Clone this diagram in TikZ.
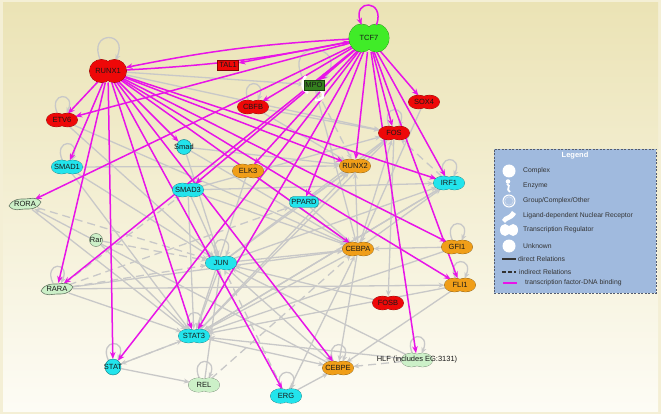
\documentclass[tikz,border=0pt]{standalone}
\usepackage{fontspec}
\setmainfont{Liberation Sans}
\usetikzlibrary{positioning}
\usetikzlibrary{arrows,arrows.meta,shapes}
\usetikzlibrary{calc}
\definecolor{bgtop}{RGB}{235,227,181}
\definecolor{bgbot}{RGB}{253,252,245}
\definecolor{tfred}{RGB}{238,8,8}
\definecolor{tfgreen}{RGB}{64,236,40}
\definecolor{tfcyan}{RGB}{34,228,236}
\definecolor{tforange}{RGB}{240,158,24}
\definecolor{tfpale}{RGB}{204,240,200}
\definecolor{enzgreen}{RGB}{52,128,30}
\definecolor{tfmag}{RGB}{232,20,232}
\definecolor{relgrey}{RGB}{200,200,200}
\definecolor{legblue}{RGB}{160,186,222}
\definecolor{legedge}{RGB}{84,92,110}
\tikzstyle{tfbind}=[draw=tfmag, line width=1.5pt, -{Stealth[length=7pt,width=5.5pt]}]
\tikzstyle{rel}=[draw=relgrey, line width=1.3pt, -{Stealth[length=6pt,width=5pt]}]
\tikzstyle{indrel}=[rel, dash pattern=on 8pt off 5pt]
\tikzstyle{genebox}=[inner sep=0pt, outer sep=0pt]
\tikzstyle{lbl}=[font=\fontsize{7.5}{8}\selectfont, text=black!90]
\tikzstyle{legtxt}=[font=\fontsize{6.8}{8}\selectfont, text=black!80, anchor=west, inner sep=0pt]
\pgfdeclarelayer{edges}
\pgfsetlayers{edges,main}

\begin{document}
\begin{tikzpicture}[x=1pt, y=-1pt]
\useasboundingbox (0,0) rectangle (661,414);

\begin{pgfonlayer}{edges}
  \fill[bgbot!50!bgtop] (0,0) rectangle (661,414);
  \shade[top color=bgtop, bottom color=bgbot] (3,3) rectangle (658,411);
\end{pgfonlayer}

% transcription regulators (two lobes)
\foreach \x/\y/\name/\lbl/\col/\rx/\ry/\d in {
    369/38/TCF7/TCF7/tfgreen/12.5/14/7.5,
    108/71/RUNX1/RUNX1/tfred/12/11.5/6.5,
    253/107/CBFB/CBFB/tfred/10/6.8/5.5,
    424/102/SOX4/SOX4/tfred/10/6.8/5.5,
    394/133/FOS/FOS/tfred/10/6.8/5.5,
    62/120/ETV6/ETV6/tfred/10/6.8/5.5,
    388/303/FOSB/FOSB/tfred/10/6.8/5.5,
    67/167/SMAD1/SMAD1/tfcyan/10/6.8/5.5,
    188/190/SMAD3/SMAD3/tfcyan/10/6.8/5.5,
    449/183/IRF1/IRF1/tfcyan/10/6.8/5.5,
    221/263/JUN/JUN/tfcyan/10/6.8/5.5,
    194/336/STAT3/STAT3/tfcyan/10/6.8/5.5,
    286/396/ERG/ERG/tfcyan/10/7.2/5.5,
    248/171/ELK3/ELK3/tforange/10/6.8/5.5,
    355/166/RUNX2/RUNX2/tforange/10/6.8/5.5,
    358/249/CEBPA/CEBPA/tforange/10/6.8/5.5,
    457/247/GFI1/GFI1/tforange/10/6.8/5.5,
    460/285/FLI1/FLI1/tforange/10/6.8/5.5,
    338/368/CEBPE/CEBPE/tforange/10/6.8/5.5,
    204/385/REL/REL/tfpale/10/7/5.5,
    417/360/HLF/HLF (includes EG:3131)/tfpale/10/6.8/5.5}
{
  \draw[draw=\col!55!black, line width=0.7pt] ({\x-\d},\y) ellipse [x radius=\rx*1pt, y radius=\ry*1pt] ({\x+\d},\y) ellipse [x radius=\rx*1pt, y radius=\ry*1pt];
  \fill[fill=\col] ({\x-\d},\y) ellipse [x radius=\rx*1pt, y radius=\ry*1pt] ({\x+\d},\y) ellipse [x radius=\rx*1pt, y radius=\ry*1pt];
  \node[genebox, ellipse, minimum width={2*(\rx+\d)*1pt}, minimum height={2*\ry*1pt}, label={[lbl]center:{\lbl}}] (\name) at (\x,\y) {};
}

% groups, other
\node[genebox, circle, minimum size=15pt, fill=tfcyan, draw=tfcyan!55!black, label={[lbl]center:Smad}] (Smad) at (184,147) {};
\node[genebox, circle, minimum size=16pt, fill=tfcyan, draw=tfcyan!55!black, label={[lbl]center:STAT}] (STAT) at (113,367) {};
\node[genebox, circle, minimum size=13pt, fill=tfpale, draw=tfpale!50!black, label={[lbl]center:Rar}] (Rar) at (96,240) {};
\node[genebox, minimum width=21pt, minimum height=10pt, fill=tfred, draw=tfred!55!black, lbl] (TAL1) at (228,65) {TAL1};
\draw[white, line width=2.5pt] (306,76) .. controls (300,82) and (302,90) .. (308,93);
\draw[white, line width=2.5pt] (320,90) .. controls (327,95) and (322,101) .. (315,100);
\node[genebox, minimum width=20pt, minimum height=10pt, fill=enzgreen, draw=enzgreen!50!black, lbl] (MPO) at (314,85) {MPO};
\node[genebox, minimum width=29pt, minimum height=11pt, rounded corners=4pt, fill=tfcyan, draw=tfcyan!55!black, lbl] (PPARD) at (304,202) {PPARD};

% nuclear receptors
\foreach \x/\y/\name in {25/204/RORA, 57/289/RARA}
{
  \filldraw[fill=tfpale, draw=tfpale!50!black, line width=0.6pt, shift={(\x,\y)}]
    (-16,2) .. controls (-12,-6) and (-4,-5) .. (0,-5) .. controls (5,-5) and (11,-8) .. (16,-2)
    .. controls (12,6) and (4,5) .. (0,5) .. controls (-5,5) and (-11,8) .. cycle;
  \node[genebox, ellipse, minimum width=32pt, minimum height=12pt, label={[lbl]center:\name}] (\name) at (\x,\y) {};
}

\begin{pgfonlayer}{edges}
  \foreach \source/\dest in {RUNX1/MPO, RUNX1/FOS, CBFB/FOS, CBFB/RUNX2, ETV6/JUN, ETV6/CEBPA,
      SMAD1/RUNX2, SMAD1/JUN, SMAD1/STAT3, Smad/RUNX2, Smad/JUN, Smad/CEBPA, SMAD3/JUN,
      SMAD3/STAT3, SMAD3/FOS, SMAD3/IRF1, SMAD3/CEBPA, RORA/STAT3, RARA/STAT3, RARA/FLI1,
      RARA/CEBPA, JUN/CEBPA, JUN/STAT3, JUN/FOS, JUN/RUNX2, JUN/IRF1, JUN/CEBPE, ELK3/CEBPA,
      ELK3/STAT3, PPARD/CEBPA, PPARD/RUNX2, RUNX2/FOS, CEBPA/RUNX2, CEBPA/FOS, CEBPA/STAT3,
      CEBPA/CEBPE, CEBPA/IRF1, STAT3/RUNX2, STAT3/IRF1, STAT3/FOS, STAT3/STAT, STAT/REL,
      REL/JUN, GFI1/CEBPA, GFI1/STAT3, FLI1/CEBPE, FLI1/STAT3, IRF1/STAT3, SOX4/CEBPA,
      MPO/CEBPA, FOS/FOSB, FOSB/JUN, ERG/CEBPE, ERG/CEBPA, HLF/JUN, HLF/STAT3, CEBPE/RORA,
      STAT3/CEBPE, Rar/STAT3}
    \draw[rel] (\source) -- (\dest);

  \foreach \source/\dest in {RARA/SMAD3, RARA/JUN, RARA/PPARD, STAT/STAT3, REL/CEBPA, Rar/JUN,
      RORA/JUN, HLF/CEBPE, ERG/JUN, MPO/RUNX2, IRF1/FOS}
    \draw[indrel] (\source) -- (\dest);

  \foreach \n in {ETV6, SMAD1, CBFB, FOS, IRF1, GFI1, FLI1, STAT3, STAT, REL, CEBPE, ERG, HLF, RARA, JUN}
    \draw[rel] (\n.125) .. controls +(-10,-22) and +(10,-22) .. (\n.55);
  \draw[rel] (RUNX1.125) .. controls +(-14,-30) and +(14,-30) .. (RUNX1.55);
  \draw[rel] (MPO.north west) .. controls +(-24,-42) and +(26,-38) .. (MPO.north east);

  \foreach \source/\dest in {TCF7/TAL1, TCF7/ETV6, TCF7/MPO, TCF7/CBFB, TCF7/SOX4, TCF7/FOS,
      TCF7/IRF1, TCF7/RORA, TCF7/SMAD3, TCF7/ELK3, TCF7/PPARD, TCF7/RUNX2, TCF7/HLF, TCF7/FLI1,
      TCF7/STAT3, TCF7/STAT, TCF7/RARA, RUNX1/ETV6, RUNX1/SMAD1, RUNX1/Smad, RUNX1/RUNX2,
      RUNX1/IRF1, RUNX1/CEBPA, RUNX1/GFI1, RUNX1/FLI1, RUNX1/STAT3, RUNX1/STAT, RUNX1/RARA,
      RUNX1/ERG, RUNX1/CEBPE}
    \draw[tfbind] (\source) -- (\dest);
  \draw[tfbind] (TCF7) to[bend right=4] (RUNX1);
  \draw[tfbind] (RUNX1) to[bend right=4] (TCF7);
\end{pgfonlayer}
\draw[tfbind] (TCF7.60) .. controls +(9,-26) and +(-9,-26) .. (TCF7.120);

% legend
\node[genebox, draw=legedge, dash pattern=on 2pt off 1.5pt, line width=0.7pt, fill=legblue,
      minimum width=162pt, minimum height=144pt, anchor=north west] (legend) at (494,149) {};
\node[font=\bfseries\fontsize{7.5}{8}\selectfont, text=white] (legtitle) at (575,156) {Legend};

\fill[white] (509,171) circle (6.5pt);
\fill[white] (508,181.5) circle (2.3pt);
\draw[white, line width=1.8pt] (507,184) .. controls (512,186) and (505,189) .. (510,192);
\draw[white, line width=1pt, fill=legblue!85!white] (509,201) circle (6pt);
\draw[white!55!legblue, line width=0.6pt] (509,201) circle (4.2pt);
\fill[white] (502,220) .. controls (505,214) and (508,218) .. (512,211) -- (516,214)
   .. controls (512,221) and (507,219) .. (505,223) -- cycle;
\fill[white] (505,230) ellipse [x radius=5pt, y radius=6pt] (513,230) ellipse [x radius=5pt, y radius=6pt];
\fill[white] (509,246) circle (6.5pt);

\node[legtxt] (lcomplex) at (523,171) {Complex};
\node[legtxt] (lenzyme) at (523,186) {Enzyme};
\node[legtxt] (lgroup) at (523,201) {Group/Complex/Other};
\node[legtxt] (lligand) at (523,216) {Ligand-dependent Nuclear Receptor};
\node[legtxt] (lreg) at (523,230) {Transcription Regulator};
\node[legtxt] (lunknown) at (523,246) {Unknown};
\node[legtxt] (ldirect) at (518,259) {direct Relations};
\node[legtxt] (lindirect) at (519,272) {indirect Relations};
\node[legtxt] (ltfdna) at (525,283) {transcription factor-DNA binding};

\coordinate (dirA) at (502,259);
\coordinate (dirB) at (516,259);
\coordinate (indA) at (502,272);
\coordinate (indB) at (516,272);
\coordinate (tfA) at (503,283);
\coordinate (tfB) at (517,283);
\draw[line width=1.3pt, black!80] (dirA) -- (dirB);
\draw[line width=1.3pt, black!80, dash pattern=on 4pt off 2pt] (indA) -- (indB);
\draw[line width=1.3pt, tfmag] (tfA) -- (tfB);

\end{tikzpicture}
\end{document}
